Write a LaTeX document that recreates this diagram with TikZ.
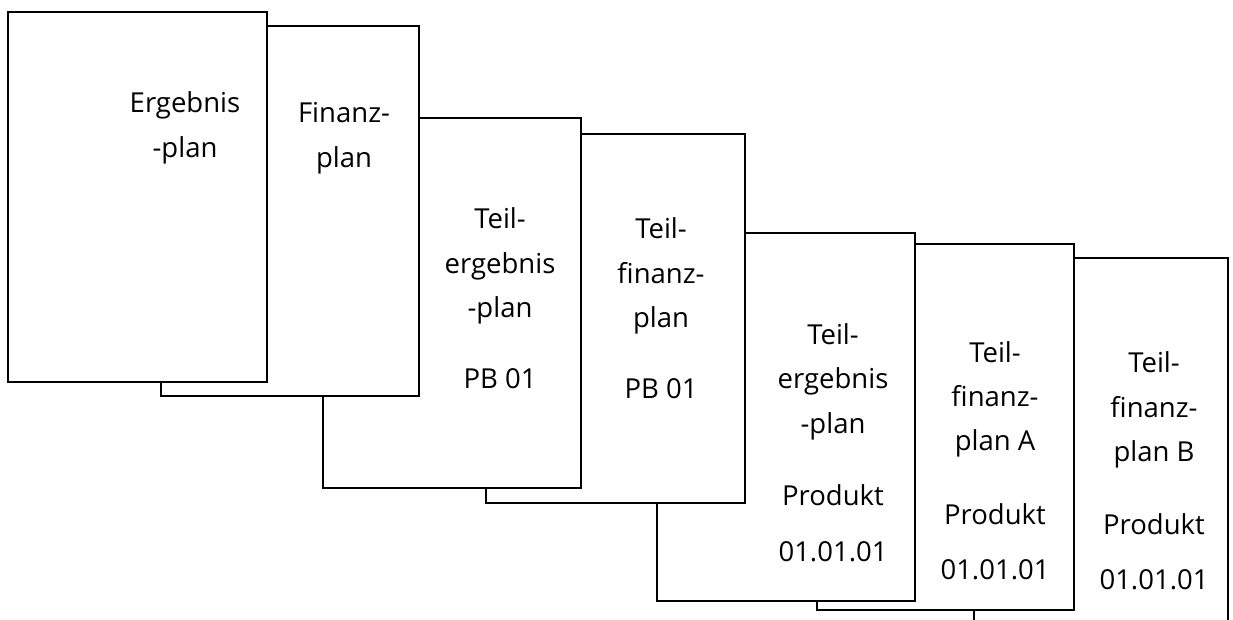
\documentclass[tikz,border=0pt]{standalone}
\usepackage{fontspec}
\setmainfont{Open Sans}
\begin{document}
\begin{tikzpicture}[x=1pt,y=-1pt,
  sheet/.style={draw=black,fill=white,line width=2.6pt,line join=miter},
  lbl/.style={anchor=base,inner sep=0pt,font=\fontsize{27.5}{27.5}\selectfont}]
\useasboundingbox (0,0) rectangle (1233,619);
\clip (0,0) rectangle (1233,619);
% sheets, back to front
\filldraw[sheet] (974,258) rectangle (1228,640);
\filldraw[sheet] (817,244) rectangle (1074,610);
\filldraw[sheet] (657,233) rectangle (915,601);
\filldraw[sheet] (486,134) rectangle (745,503);
\filldraw[sheet] (323,118) rectangle (581,488);
\filldraw[sheet] (161,26) rectangle (419,396);
\filldraw[sheet] (8,12) rectangle (267,382);
% labels
\foreach \n/\x/\y/\t in {
  a1/185/112/Ergebnis, a2/185/157/-plan,
  b1/344/122/Finanz-, b2/344/167/plan,
  c1/500/228/Teil-, c2/500/273/ergebnis, c3/500/317/-plan, c4/500/388/PB 01,
  d1/661/238/Teil-, d2/661/283/finanz-, d3/661/327/plan, d4/661/398/PB 01,
  e1/833/344/Teil-, e2/833/388/ergebnis, e3/833/433/-plan, e4/833/505/Produkt, e5/833/561/01.01.01,
  f1/995/362/Teil-, f2/995/406/finanz-, f3/995/450/plan A, f4/995/524/Produkt, f5/995/579/01.01.01,
  g1/1154/372/Teil-, g2/1154/417/finanz-, g3/1154/461/plan B, g4/1154/534/Produkt, g5/1154/589/01.01.01}
  \node[lbl] (\n) at (\x,\y) {\t};
\end{tikzpicture}
\end{document}
